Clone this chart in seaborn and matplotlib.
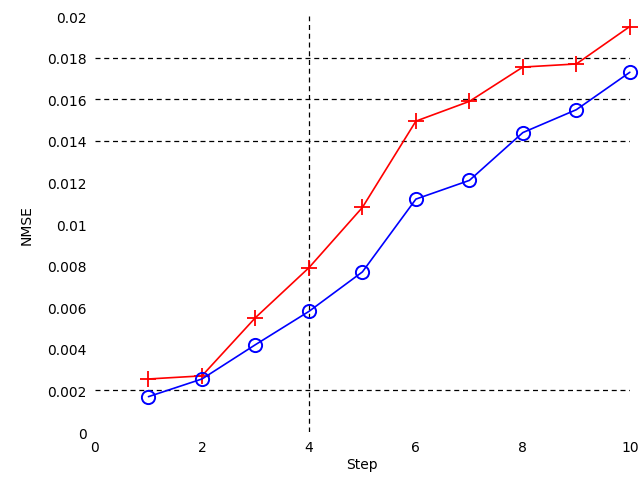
import pandas as pd
import matplotlib
matplotlib.use('Agg')
import matplotlib.pyplot as plt
import seaborn as sns

# values
steps = [1, 2, 3, 4, 5, 6, 7, 8, 9, 10]
nmse_red = [0.00255, 0.0027, 0.0055, 0.0079, 0.0108, 0.01495, 0.0159, 0.01755, 0.0177, 0.0195]
nmse_blue = [0.0017, 0.00255, 0.0042, 0.0058, 0.0077, 0.0112, 0.0121, 0.0144, 0.0155, 0.0173]
y_ticks = [0, 0.002, 0.004, 0.006, 0.008, 0.01, 0.012, 0.014, 0.016, 0.018, 0.02]
y_tick_labels = ['0', '0.002', '0.004', '0.006', '0.008', '0.01', '0.012', '0.014', '0.016', '0.018', '0.02']
x_ticks = [0, 2, 4, 6, 8, 10]
grid_y = [0.002, 0.014, 0.016, 0.018]
grid_x = [4]

df = pd.DataFrame({'Step': steps + steps,
                   'NMSE': nmse_red + nmse_blue,
                   'series': ['red'] * len(steps) + ['blue'] * len(steps)})

sns.set_style('white')
plt.rcParams['font.family'] = ['DejaVu Sans']

fig = plt.figure(figsize=(6.44, 4.89), dpi=100)
ax = fig.add_axes([0.1475, 0.1145, 0.8305, 0.8505])

# odd partial grid, as in the reference
for gy in grid_y:
    ax.axhline(gy, color='black', linestyle=(0, (4, 3)), linewidth=0.9, zorder=0)
for gx in grid_x:
    ax.axvline(gx, color='black', linestyle=(0, (4, 3)), linewidth=0.9, zorder=0)

sns.lineplot(data=df[df['series'] == 'red'], x='Step', y='NMSE', color='red',
             marker='+', markersize=11, markeredgecolor='red', markeredgewidth=1.3,
             linewidth=1.2, clip_on=False, ax=ax)
sns.lineplot(data=df[df['series'] == 'blue'], x='Step', y='NMSE', color='blue',
             marker='o', markersize=9.5, markerfacecolor='none', markeredgecolor='blue',
             markeredgewidth=1.4, linewidth=1.2, clip_on=False, ax=ax)

ax.set_xlim(0, 10)
ax.set_ylim(0, 0.02)
ax.set_xticks(x_ticks)
ax.set_yticks(y_ticks)
ax.set_yticklabels(y_tick_labels)
ax.tick_params(axis='both', labelsize=10, length=0, pad=6, labelcolor='black')
for s in ax.spines.values():
    s.set_visible(False)
ax.set_xlabel('Step', fontsize=10, labelpad=2, color='black')
ax.set_ylabel('NMSE', fontsize=10, labelpad=10, color='black')

fig.savefig('out.png', dpi=100)
